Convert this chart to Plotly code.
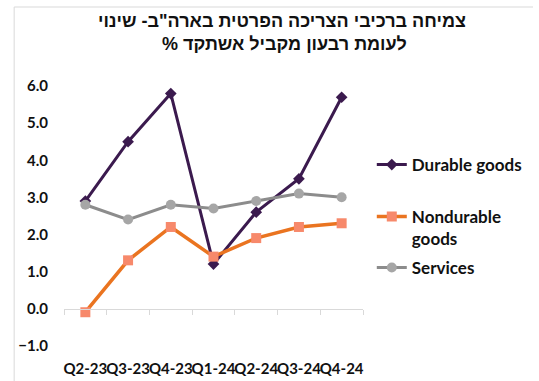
import plotly.graph_objects as go

categories = ["Q2-23", "Q3-23", "Q4-23", "Q1-24", "Q2-24", "Q3-24", "Q4-24"]
durable = [2.9, 4.5, 5.8, 1.2, 2.6, 3.5, 5.7]
nondurable = [-0.1, 1.3, 2.2, 1.4, 1.9, 2.2, 2.3]
services = [2.8, 2.4, 2.8, 2.7, 2.9, 3.1, 3.0]
y_ticks = [-1.0, 0.0, 1.0, 2.0, 3.0, 4.0, 5.0, 6.0]
title_lines = ['צמיחה ברכיבי הצריכה הפרטית בארה"ב- שינוי', '% לעומת רבעון מקביל אשתקד']

YMIN, YMAX = -1.2, 6.3
LAB_FONT = "Lato, 'Open Sans', sans-serif"
TITLE_FONT = "Arial, 'Liberation Sans', sans-serif"

fig = go.Figure()
# invisible trace holding the zero-line category axis
fig.add_trace(go.Scatter(x=categories, y=[None] * len(categories), xaxis="x2",
                         mode="lines", showlegend=False, hoverinfo="skip"))
fig.add_trace(go.Scatter(
    x=categories, y=durable, name="Durable goods", mode="lines+markers",
    line=dict(color="#3b1a4e", width=3),
    marker=dict(symbol="diamond", size=9, color="#3b1a4e"),
    legend="legend"))
fig.add_trace(go.Scatter(
    x=categories, y=nondurable, name="Nondurable<br>goods", mode="lines+markers",
    line=dict(color="#ea7420", width=3.5),
    marker=dict(symbol="square", size=10, color="#f7896b"),
    legend="legend2"))
fig.add_trace(go.Scatter(
    x=categories, y=services, name="Services", mode="lines+markers",
    line=dict(color="#8c8c8c", width=3),
    marker=dict(symbol="circle", size=10, color="#a6a6a6"),
    legend="legend3"))

L, R, T, B = 64, 169, 75, 28
W, H = 539, 381
pw, ph = W - L - R, H - T - B

def px_x(p):
    return (p - L) / pw

def px_y(p):
    return (H - B - p) / ph

legend_common = dict(xanchor="left", yanchor="middle", bgcolor="rgba(0,0,0,0)",
                     font=dict(family=LAB_FONT, size=17, color="#111111", weight="bold"),
                     itemwidth=30, valign="top")

title_font = dict(family=TITLE_FONT, size=18, color="#111111", weight="bold")

fig.update_layout(
    width=W, height=H,
    margin=dict(l=L, r=R, t=T, b=B),
    paper_bgcolor="white", plot_bgcolor="white",
    xaxis=dict(type="category", categoryarray=categories, range=[-0.5, 6.5],
               showgrid=False, showline=False, ticks="", zeroline=False,
               tickangle=0, automargin=False,
               tickfont=dict(family=LAB_FONT, size=15, color="#111111", weight="bold"),
               ticklabelstandoff=5),
    xaxis2=dict(type="category", categoryarray=categories, range=[-0.5, 6.5],
                overlaying="x", anchor="free", position=(0 - YMIN) / (YMAX - YMIN),
                showline=True, linecolor="#d9d9d9", linewidth=1,
                ticks="outside", ticklen=5, tickcolor="#d9d9d9", tickson="boundaries",
                showticklabels=False, showgrid=False, zeroline=False, automargin=False),
    yaxis=dict(range=[YMIN, YMAX], tickvals=y_ticks, tickformat=".1f",
               showgrid=False, zeroline=False, showline=False, ticks="",
               automargin=False,
               tickfont=dict(family=LAB_FONT, size=15, color="#111111", weight="bold"),
               ticklabelstandoff=15),
    legend=dict(x=px_x(379), y=px_y(165), **legend_common),
    legend2=dict(x=px_x(379), y=px_y(228), **legend_common),
    legend3=dict(x=px_x(379), y=px_y(268), **legend_common),
    annotations=[
        dict(text=title_lines[0], xref="paper", yref="paper", x=px_x(287), y=px_y(21),
             xanchor="center", yanchor="middle", showarrow=False, font=title_font),
        dict(text=title_lines[1], xref="paper", yref="paper", x=px_x(290), y=px_y(44),
             xanchor="center", yanchor="middle", showarrow=False, font=title_font),
    ],
    shapes=[
        dict(type="line", xref="paper", yref="paper", x0=px_x(13), x1=px_x(W + 5),
             y0=px_y(7), y1=px_y(7), line=dict(color="#d9d9d9", width=1)),
        dict(type="line", xref="paper", yref="paper", x0=px_x(13), x1=px_x(13),
             y0=px_y(7), y1=px_y(H + 5), line=dict(color="#d9d9d9", width=1)),
    ],
)

fig.write_html("out.html", config={"displayModeBar": False},
               post_script="document.body.style.margin='0';")
